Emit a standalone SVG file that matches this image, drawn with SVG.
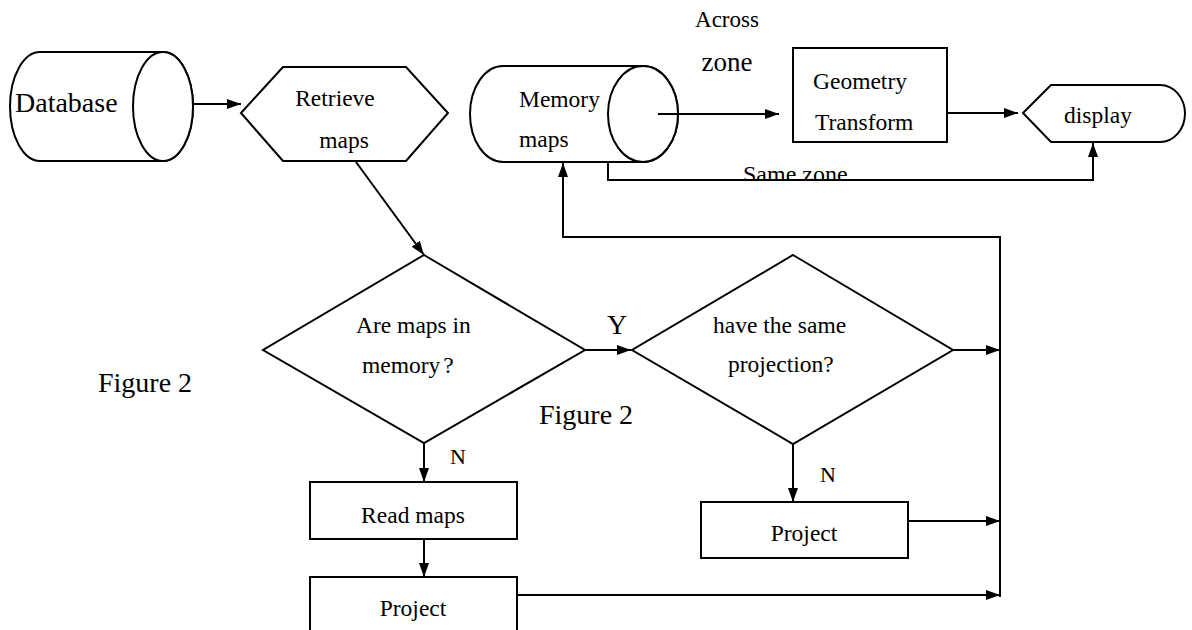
<svg xmlns="http://www.w3.org/2000/svg" width="1192" height="630" viewBox="0 0 1192 630" font-family="'Liberation Serif', 'Times New Roman', 'DejaVu Serif', serif">
<style>
.s{fill:#fff;stroke:#000;stroke-width:2}
.c{fill:none;stroke:#000;stroke-width:2}
text{font-family:'Liberation Serif','Times New Roman','DejaVu Serif',serif;fill:#000;font-size:23.5px}
.m{text-anchor:middle}
</style>
<defs>
<marker id="ah" markerUnits="userSpaceOnUse" markerWidth="15" markerHeight="11" refX="14" refY="5" orient="auto">
<path d="M0,0 L14,5 L0,10 Z" fill="#000"/>
</marker>
<clipPath id="clipSame"><rect x="700" y="150" width="200" height="30.5"/></clipPath>
</defs>
<rect width="1192" height="630" fill="#fff"/>

<g id="database">
<path class="s" d="M40,52 L163,52 A30,54.5 0 0 1 163,161 L40,161 A30,54.5 0 0 1 40,52 Z"/>
<ellipse class="s" cx="163" cy="106.5" rx="30" ry="54.5"/>
<text x="15" y="112" style="font-size:28px">Database</text>
</g>

<g id="retrieve">
<polygon class="s" points="241,113 283,67 406,67 448,113 406,161 283,161"/>
<text class="m" x="335" y="106">Retrieve</text>
<text class="m" x="344" y="148">maps</text>
</g>

<g id="memory">
<path class="s" d="M503,66 L643,66 A35,48 0 0 1 643,162 L503,162 A33,48 0 0 1 503,66 Z"/>
<ellipse class="s" cx="643" cy="114" rx="35" ry="48"/>
<text x="519" y="107">Memory</text>
<text x="519" y="147">maps</text>
</g>

<g id="geometry">
<rect class="s" x="793" y="48" width="154" height="94"/>
<text x="813" y="89">Geometry</text>
<text x="815" y="130">Transform</text>
</g>

<g id="display">
<path class="s" d="M1023,113 L1051,85 L1160,85 A25,28.5 0 0 1 1160,142 L1051,142 Z"/>
<text x="1064" y="123">display</text>
</g>

<g id="decision1">
<polygon class="s" points="424,255 585,350 424,443 263,350"/>
<text x="356" y="333">Are maps in</text>
<text x="362" y="373">memory<tspan dx="3">?</tspan></text>
</g>

<g id="decision2">
<polygon class="s" points="793,255 953,350 793,444 632,350"/>
<text x="713" y="333">have the same</text>
<text x="728" y="372">projection?</text>
</g>

<g id="readmaps">
<rect class="s" x="310" y="482" width="207" height="57"/>
<text class="m" x="413" y="523">Read maps</text>
</g>

<g id="project1">
<rect class="s" x="310" y="577" width="207" height="70"/>
<text class="m" x="413" y="616">Project</text>
</g>

<g id="project2">
<rect class="s" x="701" y="502" width="207" height="56"/>
<text class="m" x="804" y="541">Project</text>
</g>

<g id="connectors">
<line class="c" x1="193" y1="104" x2="241" y2="104" marker-end="url(#ah)"/>
<line class="c" x1="658" y1="114" x2="779" y2="114" marker-end="url(#ah)"/>
<line class="c" x1="947" y1="113" x2="1018" y2="113" marker-end="url(#ah)"/>
<path class="c" d="M608,162 L608,180 L1093,180 L1093,143" marker-end="url(#ah)"/>
<path class="c" d="M1000,597 L1000,237 L563,237 L563,163" marker-end="url(#ah)"/>
<line class="c" x1="356" y1="162" x2="424" y2="255" marker-end="url(#ah)"/>
<line class="c" x1="585" y1="350" x2="631" y2="350" marker-end="url(#ah)"/>
<line class="c" x1="953" y1="350" x2="1000" y2="350" marker-end="url(#ah)"/>
<line class="c" x1="424" y1="443" x2="424" y2="482" marker-end="url(#ah)"/>
<line class="c" x1="424" y1="539" x2="424" y2="577" marker-end="url(#ah)"/>
<line class="c" x1="517" y1="595" x2="1000" y2="595" marker-end="url(#ah)"/>
<line class="c" x1="793" y1="444" x2="793" y2="502" marker-end="url(#ah)"/>
<line class="c" x1="908" y1="521" x2="1000" y2="521" marker-end="url(#ah)"/>
</g>

<g id="labels">
<text class="m" x="727" y="27" style="font-size:23px">Across</text>
<text class="m" x="727" y="71" style="font-size:27px">zone</text>
<text x="743" y="182" style="font-size:24px" clip-path="url(#clipSame)">Same zone</text>
<text x="607" y="334" style="font-size:28px">Y</text>
<text x="450" y="464" style="font-size:22px">N</text>
<text x="820" y="482" style="font-size:22px">N</text>
<text x="539" y="424" style="font-size:28px">Figure 2</text>
<text x="98" y="392" style="font-size:28px">Figure 2</text>
</g>
</svg>
